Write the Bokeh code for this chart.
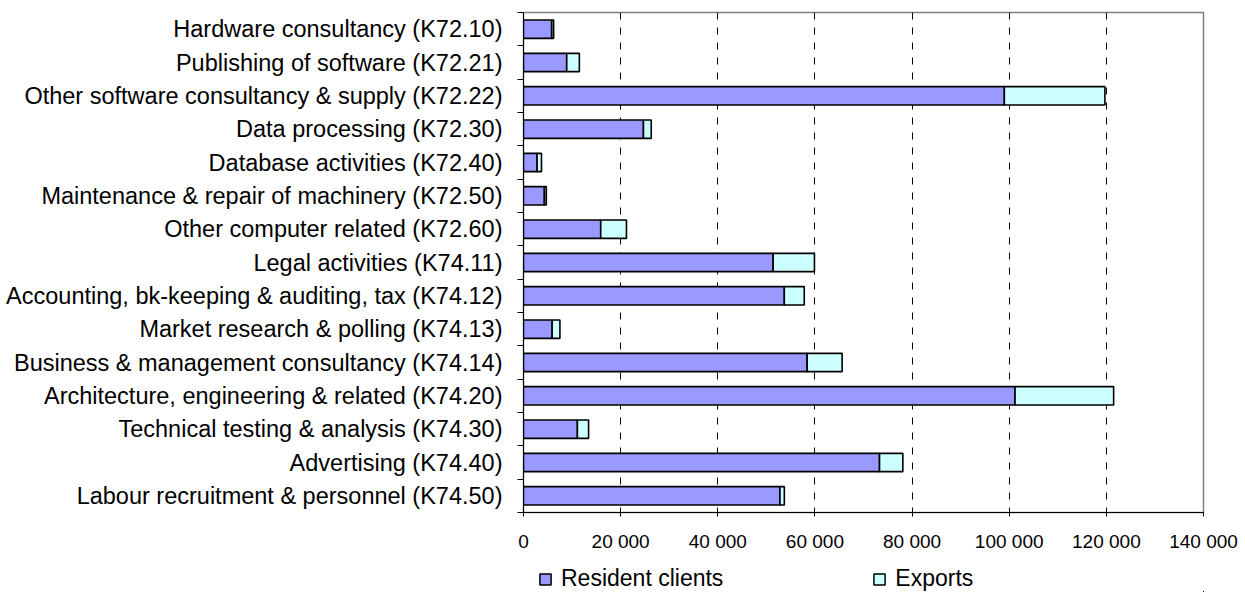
from bokeh.plotting import figure
from bokeh.layouts import column
from bokeh.models import Range1d, FixedTicker, ColumnDataSource, Legend, LegendItem
from bokeh.embed import file_html
from bokeh.resources import INLINE

categories = [
    "Hardware consultancy (K72.10)",
    "Publishing of software (K72.21)",
    "Other software consultancy & supply (K72.22)",
    "Data processing (K72.30)",
    "Database activities (K72.40)",
    "Maintenance & repair of machinery (K72.50)",
    "Other computer related (K72.60)",
    "Legal activities (K74.11)",
    "Accounting, bk-keeping & auditing, tax (K74.12)",
    "Market research & polling (K74.13)",
    "Business & management consultancy (K74.14)",
    "Architecture, engineering & related (K74.20)",
    "Technical testing & analysis (K74.30)",
    "Advertising (K74.40)",
    "Labour recruitment & personnel (K74.50)",
]
resident = [5800, 8900, 99000, 24700, 2800, 4300, 15900, 51400, 53700, 5900, 58400, 101200, 11100, 73300, 52800]
exports = [400, 2600, 20700, 1600, 900, 400, 5300, 8500, 4100, 1600, 7200, 20300, 2300, 4800, 900]
series_names = ["Resident clients", "Exports"]
series_colors = ["#9999FF", "#CCFFFF"]
tick_values = [0, 20000, 40000, 60000, 80000, 100000, 120000, 140000]
tick_labels = ["0", "20 000", "40 000", "60 000", "80 000", "100 000", "120 000", "140 000"]

FONT = "Liberation Sans"
n = len(categories)
pos = list(range(n))

src = ColumnDataSource(dict(y=pos, resident=resident, exports=exports))

p = figure(width=1245, height=554, output_backend="svg", toolbar_location=None,
           x_range=Range1d(0, 140000), y_range=Range1d(n - 0.5, -0.5),
           min_border_left=523, min_border_right=42, min_border_top=12, min_border_bottom=42)

p.hbar_stack(["resident", "exports"], y="y", height=0.55, source=src,
             fill_color=series_colors, line_color="black", line_width=1.6)

# x axis
xa = p.xaxis[0]
xa.ticker = FixedTicker(ticks=tick_values)
xa.major_label_overrides = {v: l for v, l in zip(tick_values, tick_labels)}
xa.major_tick_out = 4
xa.major_tick_in = 0
xa.minor_tick_line_color = None
xa.axis_line_color = "black"
xa.major_tick_line_color = "black"
xa.major_label_text_font = FONT
xa.major_label_text_font_size = "19px"
xa.major_label_text_color = "black"
xa.major_label_standoff = 14

# y axis
ya = p.yaxis[0]
ya.ticker = FixedTicker(ticks=pos, minor_ticks=[i - 0.5 for i in range(n + 1)])
ya.major_label_overrides = {i: c for i, c in zip(pos, categories)}
ya.major_tick_out = 0
ya.major_tick_in = 0
ya.minor_tick_out = 6
ya.minor_tick_in = 0
ya.minor_tick_line_color = "black"
ya.axis_line_color = "black"
ya.major_label_text_font = FONT
ya.major_label_text_font_size = "23.5px"
ya.major_label_text_color = "black"
ya.major_label_standoff = 15

p.ygrid.grid_line_color = None
p.xgrid.ticker = FixedTicker(ticks=tick_values[1:-1])
p.xgrid.grid_line_color = "black"
p.xgrid.grid_line_dash = "7 8"
p.xgrid.grid_line_width = 1

p.outline_line_color = "#808080"
p.outline_line_width = 1.5

# legend strip below the chart (its frame is aligned with the chart frame);
# the stacked bars are repeated here only as legend sources, outside the visible range
lf = figure(width=1245, height=38, output_backend="svg", toolbar_location=None,
            x_range=Range1d(-2, -1), y_range=Range1d(100, 101),
            x_axis_location=None, y_axis_location=None,
            min_border_left=0, min_border_right=0, min_border_top=0, min_border_bottom=0)
lf.outline_line_color = None
lf.xgrid.visible = False
lf.ygrid.visible = False
lrs = lf.hbar_stack(["resident", "exports"], y="y", height=0.55, source=src,
                    fill_color=series_colors, line_color="black", line_width=1.5)
items = [LegendItem(label=name, renderers=[r]) for name, r in zip(series_names, lrs)]

legend = Legend(items=items, orientation="horizontal", location=(15, 0), padding=0, margin=0,
                spacing=149, glyph_width=14, glyph_height=14, label_standoff=9,
                label_text_font=FONT, label_text_font_size="23px", label_text_color="black",
                border_line_color=None, background_fill_alpha=0)
lf.add_layout(legend)

layout = column(p, lf, spacing=0)
open("out.html", "w").write(file_html(layout, INLINE))
